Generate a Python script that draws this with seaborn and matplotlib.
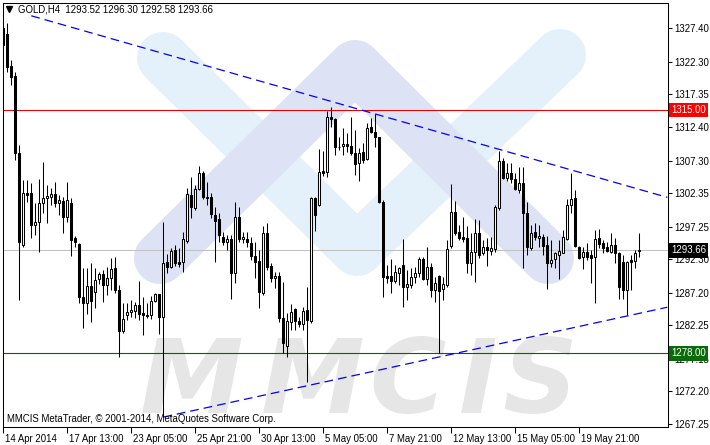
import numpy as np
import pandas as pd
import matplotlib
matplotlib.use("Agg")
import matplotlib.pyplot as plt
import matplotlib.transforms as mtransforms
import seaborn as sns

# ---------------- data (GOLD, H4) ----------------
opens = [
    1327.4, 1326.5, 1321.7, 1320.2, 1308.4, 1294.5, 1302.4, 1302.4, 1297.5, 1298.0,
    1300.8, 1301.6, 1301.8, 1302.2, 1300.8, 1301.2, 1298.7, 1300.8, 1295.5, 1294.6,
    1286.6, 1285.6, 1288.2, 1287.3, 1289.3, 1290.1, 1288.4, 1289.4, 1291.0, 1287.6,
    1281.4, 1283.8, 1284.3, 1284.4, 1285.3, 1284.1, 1283.8, 1283.8, 1286.0, 1287.0,
    1283.5, 1291.9, 1291.1, 1293.7, 1291.9, 1291.9, 1295.1, 1302.1, 1300.1, 1303.0,
    1305.4, 1301.8, 1301.8, 1299.0, 1298.4, 1295.7, 1294.9, 1295.4, 1290.2, 1298.7,
    1295.4, 1295.4, 1294.8, 1292.8, 1292.0, 1287.2, 1296.3, 1291.3, 1289.4, 1289.7,
    1283.4, 1279.1, 1282.8, 1284.7, 1282.9, 1282.45, 1284.6, 1282.9, 1301.6, 1300.5,
    1305.7, 1305.6, 1313.9, 1313.6, 1309.4, 1309.5, 1309.8, 1309.5, 1308.4, 1306.9,
    1308.6, 1307.5, 1312.4, 1311.6, 1310.9, 1301.0, 1289.75, 1289.75, 1289.0, 1290.2,
    1291.4, 1288.1, 1288.4, 1289.6, 1290.2, 1292.3, 1289.3, 1291.1, 1287.6, 1289.75,
    1287.8, 1288.4, 1294.3, 1299.5, 1296.4, 1295.7, 1295.5, 1291.7, 1293.4, 1296.3,
    1293.2, 1294.2, 1293.55, 1293.85, 1300.1, 1307.2, 1304.6, 1305.4, 1304.5, 1302.8,
    1303.9, 1299.3, 1294.0, 1296.4, 1295.5, 1295.7, 1294.5, 1291.7, 1292.3, 1292.9,
    1293.2, 1295.4, 1300.5, 1301.6, 1294.2, 1292.6, 1293.4, 1292.9, 1292.6, 1295.5,
    1294.8, 1294.2, 1293.4, 1294.5, 1293.2, 1291.9, 1287.6, 1292.2, 1292.0, 1293.52,
]
highs = [
    1327.9, 1328.2, 1322.6, 1320.8, 1309.7, 1304.3, 1304.3, 1303.9, 1300.8, 1304.5,
    1307.1, 1303.6, 1303.1, 1304.0, 1302.1, 1301.8, 1304.0, 1301.6, 1295.8, 1294.8,
    1291.0, 1291.0, 1291.7, 1291.0, 1290.4, 1290.7, 1291.1, 1292.5, 1292.6, 1288.4,
    1285.6, 1285.6, 1286.1, 1285.8, 1289.0, 1286.6, 1285.6, 1286.7, 1287.2, 1287.0,
    1298.0, 1293.1, 1294.0, 1294.5, 1294.0, 1296.4, 1303.1, 1304.8, 1303.6, 1306.5,
    1305.7, 1304.0, 1302.4, 1300.2, 1299.3, 1296.4, 1296.0, 1296.0, 1301.0, 1300.2,
    1296.4, 1296.4, 1295.7, 1294.9, 1293.7, 1297.3, 1297.8, 1291.7, 1290.4, 1290.4,
    1288.8, 1284.1, 1285.5, 1284.9, 1283.5, 1285.0, 1288.1, 1301.8, 1301.8, 1309.1,
    1308.7, 1314.8, 1315.4, 1313.8, 1310.9, 1312.2, 1311.5, 1313.9, 1311.9, 1309.2,
    1310.0, 1313.0, 1313.8, 1314.4, 1310.9, 1301.3, 1291.4, 1292.3, 1291.4, 1291.1,
    1295.4, 1290.7, 1291.0, 1291.1, 1292.6, 1292.6, 1294.2, 1291.7, 1289.6, 1289.9,
    1289.6, 1295.2, 1303.7, 1301.15, 1297.5, 1298.7, 1297.35, 1296.3, 1298.4, 1298.3,
    1295.2, 1295.5, 1295.7, 1300.5, 1308.7, 1307.7, 1306.9, 1306.9, 1305.4, 1306.3,
    1306.3, 1301.0, 1297.5, 1297.8, 1297.5, 1296.1, 1295.8, 1295.2, 1293.4, 1295.2,
    1296.7, 1301.5, 1305.4, 1302.8, 1294.3, 1294.2, 1294.8, 1293.7, 1296.7, 1296.9,
    1295.2, 1294.9, 1296.3, 1295.5, 1293.4, 1292.9, 1292.0, 1292.9, 1293.7, 1296.30,
]
lows = [
    1324.6, 1320.8, 1318.8, 1307.4, 1286.1, 1294.2, 1301.0, 1295.5, 1296.0, 1293.4,
    1299.3, 1297.8, 1300.5, 1300.2, 1299.0, 1296.3, 1298.0, 1292.8, 1294.2, 1285.6,
    1281.8, 1284.0, 1282.8, 1284.9, 1288.5, 1285.8, 1286.9, 1287.6, 1287.2, 1277.4,
    1281.1, 1283.1, 1283.5, 1283.4, 1283.1, 1280.8, 1283.4, 1283.2, 1285.8, 1280.9,
    1268.3, 1290.2, 1291.0, 1291.3, 1291.1, 1290.4, 1294.8, 1298.6, 1299.8, 1302.8,
    1301.5, 1300.5, 1298.6, 1291.9, 1294.9, 1294.5, 1293.7, 1286.3, 1288.7, 1294.9,
    1294.8, 1294.2, 1292.2, 1289.4, 1284.9, 1286.9, 1290.7, 1288.8, 1287.9, 1282.8,
    1278.0, 1277.4, 1281.5, 1281.5, 1282.0, 1281.5, 1273.6, 1282.6, 1296.6, 1300.4,
    1304.9, 1304.8, 1312.4, 1308.1, 1308.9, 1308.1, 1308.6, 1308.1, 1305.1, 1304.2,
    1306.9, 1307.4, 1311.5, 1309.4, 1300.8, 1286.6, 1288.7, 1287.2, 1288.7, 1288.4,
    1285.0, 1286.1, 1287.9, 1288.7, 1289.6, 1289.1, 1288.4, 1286.6, 1285.8, 1278.0,
    1286.1, 1288.1, 1294.0, 1296.0, 1295.2, 1294.9, 1290.2, 1289.9, 1288.8, 1292.5,
    1292.9, 1291.3, 1292.9, 1293.4, 1299.8, 1304.5, 1304.2, 1303.9, 1302.8, 1302.4,
    1291.0, 1292.9, 1293.7, 1295.2, 1294.2, 1292.9, 1287.8, 1291.1, 1291.0, 1289.3,
    1293.2, 1295.2, 1299.3, 1294.2, 1292.3, 1290.8, 1292.2, 1288.7, 1285.6, 1294.0,
    1293.2, 1293.4, 1293.2, 1291.7, 1286.3, 1286.3, 1283.8, 1287.6, 1291.0, 1292.58,
]
closes = [
    1324.9, 1321.5, 1320.0, 1308.4, 1294.9, 1302.4, 1302.1, 1297.5, 1298.0, 1300.8,
    1301.6, 1301.9, 1302.2, 1300.8, 1301.3, 1298.7, 1301.3, 1295.2, 1294.9, 1286.6,
    1285.6, 1288.2, 1286.0, 1289.1, 1290.1, 1288.4, 1289.4, 1290.8, 1287.6, 1281.4,
    1283.2, 1284.3, 1284.6, 1285.3, 1284.0, 1283.8, 1283.7, 1285.95, 1287.0, 1283.5,
    1291.7, 1291.1, 1293.5, 1291.7, 1291.6, 1295.4, 1302.2, 1300.2, 1303.0, 1305.4,
    1301.8, 1301.6, 1299.2, 1298.1, 1296.0, 1294.9, 1295.4, 1290.2, 1298.7, 1295.4,
    1295.7, 1294.9, 1292.8, 1291.9, 1287.3, 1296.3, 1291.1, 1289.4, 1289.7, 1283.4,
    1279.6, 1282.9, 1284.3, 1282.9, 1282.45, 1284.4, 1283.1, 1301.6, 1299.0, 1305.6,
    1305.4, 1313.9, 1313.6, 1309.4, 1309.3, 1309.8, 1309.5, 1308.4, 1306.8, 1308.4,
    1307.4, 1312.2, 1311.6, 1310.9, 1301.0, 1289.6, 1289.5, 1289.0, 1290.4, 1291.0,
    1288.1, 1288.5, 1289.6, 1290.2, 1292.3, 1289.3, 1291.1, 1287.6, 1288.7, 1287.5,
    1288.5, 1293.9, 1299.5, 1296.3, 1295.5, 1295.4, 1291.7, 1293.4, 1296.3, 1292.9,
    1294.2, 1293.7, 1294.0, 1300.2, 1307.2, 1304.6, 1305.4, 1304.5, 1303.0, 1303.9,
    1299.3, 1294.2, 1296.3, 1295.7, 1295.8, 1294.3, 1291.7, 1292.2, 1293.2, 1293.55,
    1295.7, 1300.5, 1301.45, 1294.3, 1292.5, 1293.4, 1292.6, 1292.5, 1295.4, 1294.6,
    1294.0, 1293.55, 1294.5, 1293.2, 1288.1, 1287.6, 1291.9, 1291.9, 1293.2, 1293.66,
]

x_tick_bars = [0, 16, 32, 48, 64, 80, 96, 112, 128, 144]
x_tick_labels = ["14 Apr 2014", "17 Apr 13:00", "23 Apr 05:00", "25 Apr 21:00",
                 "30 Apr 13:00", "5 May 05:00", "7 May 21:00", "12 May 13:00",
                 "15 May 05:00", "19 May 21:00"]
y_tick_values = [1327.40, 1322.30, 1317.35, 1312.40, 1307.30, 1302.35, 1297.25,
                 1292.30, 1287.20, 1282.25, 1277.15, 1272.20, 1267.25]

upper_trend_bar = [7, 166]
upper_trend_price = [1329.3, 1301.7]
lower_trend_bar = [40, 166]
lower_trend_price = [1268.3, 1285.0]

resistance_level = 1315.00
support_level = 1278.00
bid_level = 1293.66
title_text = "GOLD,H4  1293.52 1296.30 1292.58 1293.66"
copyright_text = "MMCIS MetaTrader, \u00a9 2001-2014, MetaQuotes Software Corp."

# ---------------- style ----------------
sns.set_theme(style="white")
plt.rcParams['font.family'] = ['Liberation Sans', 'DejaVu Sans']
FS = 6.9

W, H = 710, 445
fig = plt.figure(figsize=(W / 100, H / 100), dpi=100)
fig.patch.set_facecolor("white")
ax = fig.add_axes([2.5 / W, 1 - 426.5 / H, 665 / W, 424 / H])
ax.set_facecolor("white")

# ---------------- watermark logo ----------------
def band(points, color, z):
    xs = [p[0] / W for p in points]
    ys = [1 - p[1] / H for p in points]
    ax.plot(xs, ys, transform=fig.transFigure, color=color, lw=52 * 0.72,
            solid_capstyle='round', solid_joinstyle='round', zorder=z)

band([(163, 58), (357, 250), (560, 55)], "#e4f1fa", 0.2)
band([(160, 258), (355, 66), (548, 258)], "#dde2f5", 0.3)

for letter, cx in zip("MMCIS", [192, 313, 407, 478, 540]):
    ax.text(cx / W, 1 - 413 / H, letter, transform=fig.transFigure, ha='center',
            va='baseline', fontsize=75, fontweight='bold', style='italic',
            family='DejaVu Sans', color='#e6e6e6', zorder=0.1)

# ---------------- horizontal levels ----------------
ax.axhline(bid_level, color='#c0c0c0', lw=0.75, zorder=1)
ax.axhline(resistance_level, color='#ee0000', lw=0.75, zorder=1)
ax.axhline(support_level, color='#0b600b', lw=0.8, zorder=1)

# ---------------- trend lines (seaborn) ----------------
trend = pd.DataFrame({
    "bar": upper_trend_bar + lower_trend_bar,
    "price": upper_trend_price + lower_trend_price,
    "line": ["upper"] * 2 + ["lower"] * 2,
})
n_before = len(ax.lines)
sns.lineplot(data=trend, x="bar", y="price", units="line", estimator=None,
             sort=False, color="#0000ff", lw=0.9, ax=ax, legend=False, zorder=1.5)
for ln in ax.lines[n_before:]:
    ln.set_linestyle((0, (7, 4)))

# ---------------- candles ----------------
o = np.array(opens)
h = np.array(highs)
l = np.array(lows)
c = np.array(closes)
xb = np.arange(len(o))
ax.vlines(xb, l, h, color='black', lw=0.75, zorder=3)
bottom = np.minimum(o, c)
height = np.maximum(np.abs(c - o), 0.05)
faces = ['white' if cc >= oo else 'black' for oo, cc in zip(o, c)]
ax.bar(xb, height, bottom=bottom, width=0.55, color=faces, edgecolor='black',
       linewidth=0.75, zorder=4)

# ---------------- axes ----------------
ax.set_xlim(-0.2, 166.05)
ax.set_ylim(1266.87, 1331.32)
ax.set_xlabel("")
ax.set_ylabel("")
ax.set_xticks(x_tick_bars)
ax.set_xticklabels(x_tick_labels, ha='left')
ax.tick_params(axis='x', bottom=True, top=False, direction='out', length=4,
               width=0.75, pad=1.5, labelsize=FS, colors='black')
offset = mtransforms.ScaledTranslation(2 / 100, 0, fig.dpi_scale_trans)
for lab in ax.get_xticklabels():
    lab.set_transform(lab.get_transform() + offset)
ax.set_yticks(y_tick_values)
ax.set_yticklabels([f"{v:.2f}" for v in y_tick_values])
ax.tick_params(axis='y', left=False, right=True, labelleft=False, labelright=True,
               direction='out', length=3, width=0.75, pad=2, labelsize=FS,
               colors='black')
for s in ax.spines.values():
    s.set_visible(True)
    s.set_color('black')
    s.set_linewidth(0.75)
ax.grid(False)

# level labels on the price scale
ytr = ax.get_yaxis_transform()
for val, fc in [(resistance_level, '#ff0000'), (bid_level, '#000000'),
                (support_level, '#0a6a0a')]:
    ax.text(1.0055, val, f"{val:.2f}", transform=ytr, ha='left', va='center',
            color='white', fontsize=FS, clip_on=False, zorder=6,
            bbox=dict(boxstyle='square,pad=0.24', fc=fc, ec='none'))

# title and copyright
ax.plot([(8.5 - 2.5) / 665], [1 - (9 - 2.5) / 424], marker='v', color='black',
        markersize=4, transform=ax.transAxes, clip_on=False, zorder=6)
ax.text((18 - 2.5) / 665, 1 - (10 - 2.5) / 424, title_text, transform=ax.transAxes,
        ha='left', va='center', fontsize=FS, color='black', zorder=6)
ax.text((7 - 2.5) / 665, 1 - (419 - 2.5) / 424, copyright_text,
        transform=ax.transAxes, ha='left', va='center', fontsize=FS,
        color='black', zorder=6)

fig.savefig("out.png", dpi=100, facecolor="white")
